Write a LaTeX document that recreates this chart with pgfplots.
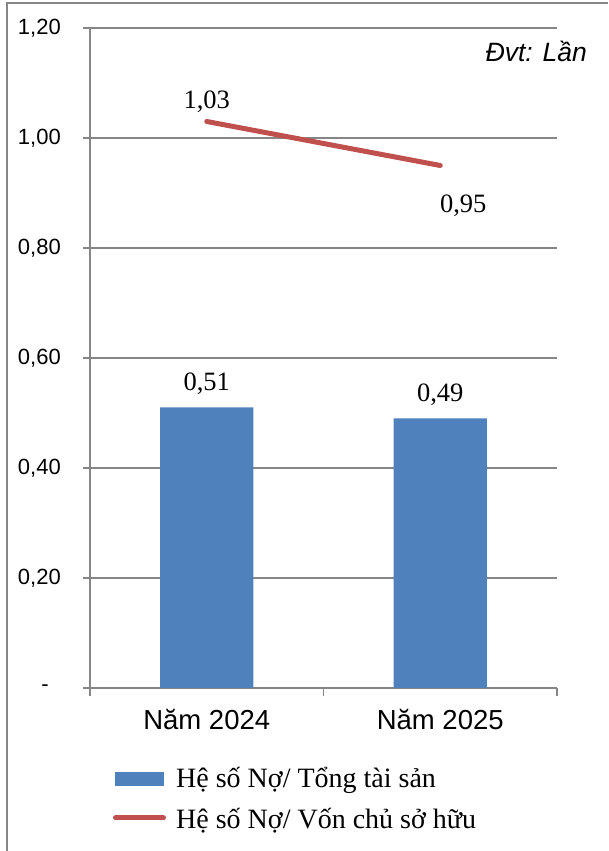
\documentclass[border=0pt]{standalone}
\usepackage{fontspec}
\setmainfont{Liberation Serif}
\newfontfamily\arial{Liberation Sans}
\usepackage{pgfplots}
\pgfplotsset{compat=1.18}
\definecolor{barblue}{HTML}{4F81BD}
\definecolor{linered}{HTML}{C0504D}
\definecolor{gridgray}{HTML}{868686}
% category label, kept unexpanded inside tick label lists
\protected\def\namlbl#1{Năm #1}

\begin{document}
\begin{tikzpicture}[x=1pt,y=1pt]
\useasboundingbox (0,0) rectangle (608,851);
% outer frame (top and left edges)
\draw[gridgray, line width=1.3pt] (7,0) -- (7,848) -- (608,848);
\begin{axis}[
  at={(90pt,163pt)}, anchor=south west,
  scale only axis, width=467pt, height=660pt,
  xmin=-0.5, xmax=1.5, ymin=0, ymax=1.2,
  axis x line*=bottom, axis y line*=left,
  axis line style={-, gridgray, line width=1.3pt},
  xtick={0,1}, xticklabels={\namlbl{2024},\namlbl{2025}},
  xtick style={draw=none},
  xticklabel style={font=\arial\fontsize{27.5}{30}\selectfont, anchor=base, inner sep=0pt, yshift=-35pt},
  ytick={0,0.2,0.4,0.6,0.8,1.0,1.2},
  yticklabels={{-\kern12pt},{0,20},{0,40},{0,60},{0,80},{1,00},{1,20}},
  ytick style={gridgray, line width=1.3pt},
  tick align=outside, major tick length=7pt,
  ymajorgrids, grid style={gridgray, line width=1.3pt},
  yticklabel style={font=\arial\fontsize{22}{24}\selectfont, anchor=east, inner sep=0pt, xshift=-22pt},
  /pgf/number format/assume math mode=true,
  clip=false,
]
% Hệ số Nợ/ Tổng tài sản
\addplot[ybar, bar width=0.4, fill=barblue, draw=none,
  point meta=y,
  nodes near coords={\pgfmathprintnumber[fixed,fixed zerofill,precision=2,use comma]{\pgfplotspointmeta}},
  every node near coord/.append style={font=\fontsize{26.5}{30}\selectfont, anchor=base, inner sep=0pt, yshift=17pt, text=black}]
  coordinates {(0,0.51) (1,0.49)};
% Hệ số Nợ/ Vốn chủ sở hữu
\addplot[linered, line width=5pt, line cap=round, mark=none]
  coordinates {(0,1.03) (1,0.95)};
\node[anchor=base, inner sep=0pt, font=\fontsize{26.5}{30}\selectfont, yshift=13pt] at (axis cs:0,1.03) {1,03};
\node[anchor=base, inner sep=0pt, font=\fontsize{26.5}{30}\selectfont, yshift=-47pt, xshift=23pt] at (axis cs:1,0.95) {0,95};
% category separator ticks
\pgfplotsinvokeforeach{-0.5,0.5,1.5}{
  \draw[gridgray, line width=1.3pt] (axis cs:#1,0) -- ([yshift=-8pt]axis cs:#1,0);
}
\end{axis}
\node[anchor=base east, inner sep=0pt, font=\arial\itshape\fontsize{26.5}{30}\selectfont] at (587,789) {Đvt: Lần};
% legend
\fill[barblue] (115,65) rectangle (164,79);
\node[anchor=base west, inner sep=0pt, font=\fontsize{28}{32}\selectfont] at (176,63) {Hệ số Nợ/ Tổng tài sản};
\draw[linered, line width=5pt, line cap=round] (115.5,33) -- (163.5,33);
\node[anchor=base west, inner sep=0pt, font=\fontsize{28}{32}\selectfont] at (176,23) {Hệ số Nợ/ Vốn chủ sở hữu};
\end{tikzpicture}
\end{document}
